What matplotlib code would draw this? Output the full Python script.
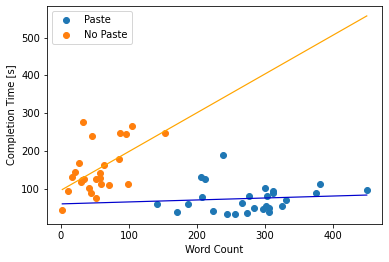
import numpy as np
import matplotlib.pyplot as plt

# word count / completion time
paste_words = [142, 171, 187, 206, 212, 208, 239, 224, 245, 256, 266, 277, 274, 284,
               297, 300, 303, 301, 306, 306, 312, 312, 325, 331, 375, 381, 450]
paste_time = [59, 38, 59, 130, 125, 77, 190, 40, 33, 33, 62, 81, 36, 48,
              46, 101, 81, 54, 50, 38, 95, 89, 54, 69, 88, 112, 96]

nopaste_words = [2, 11, 32, 45, 27, 21, 16, 31, 34, 30, 42, 44, 51, 52, 57, 57,
                 59, 63, 70, 85, 87, 95, 105, 99, 153]
nopaste_time = [43, 94, 277, 239, 169, 144, 130, 123, 125, 117, 102, 89, 76, 125, 141, 129,
                113, 162, 109, 180, 248, 245, 265, 112, 248]

# fitted lines (slope, intercept) and the x range they are drawn over
paste_fit = (0.052, 60.0)
nopaste_fit = (1.025, 96.0)
fit_range = (2, 450)

fig = plt.figure(figsize=(389 / 72, 262 / 72), dpi=72)
ax = fig.add_axes([0.121, 0.145, 0.861, 0.832])

ax.scatter(paste_words, paste_time, label="Paste")
ax.scatter(nopaste_words, nopaste_time, label="No Paste")

xs = np.array(fit_range)
ax.plot(xs, paste_fit[0] * xs + paste_fit[1], color="mediumblue", lw=1.2)
ax.plot(xs, nopaste_fit[0] * xs + nopaste_fit[1], color="orange", lw=1.2)

ax.set_xlabel("Word Count")
ax.set_ylabel("Completion Time [s]")
ax.legend(loc="upper left")

fig.savefig("out.png", dpi=72)
